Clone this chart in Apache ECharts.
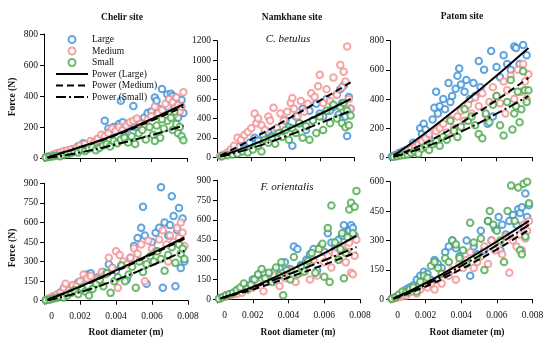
<!DOCTYPE html>
<html><head><meta charset="utf-8">
<script src="https://cdn.jsdelivr.net/npm/echarts@6/dist/echarts.min.js"></script>
<style>html,body{margin:0;padding:0;background:#fff}#c{width:550px;height:344px}</style>
</head><body><div id="c"></div>
<script>
// ---------- DATA ----------
const sizeNames = ['Large','Medium','Small'];
const fitNames = ['Power (Large)','Power (Medium)','Power (Small)'];
const siteTitles = ['Chelir site','Namkhane site','Patom site'];
const speciesLabels = ['C. betulus','F. orientalis'];
const xTickValues = [0, 0.002, 0.004, 0.006, 0.008];
const yMaxes = [800, 1200, 800, 900, 900, 600];
const yIntervals = [200, 200, 200, 150, 150, 150];

// Chelir (top)
const chelirTopLarge = [[0.0002,8],[0.0004,15],[0.0006,22],[0.0008,28],[0.0012,40],[0.0016,55],[0.0019,75],[0.0022,95],[0.0026,90],[0.003,120],[0.0032,95],[0.0034,240],[0.0036,190],[0.0037,170],[0.0039,200],[0.0041,180],[0.0042,220],[0.0043,370],[0.0044,230],[0.0045,140],[0.0047,190],[0.005,335],[0.0051,200],[0.0053,240],[0.0056,260],[0.0058,290],[0.006,300],[0.0062,390],[0.0063,370],[0.0064,320],[0.0066,445],[0.0067,300],[0.0069,410],[0.007,380],[0.0071,415],[0.0072,400],[0.0073,330],[0.0074,390],[0.0075,260],[0.0076,350],[0.0077,375],[0.0078,290]];
const chelirTopMedium = [[0.0001,5],[0.0003,12],[0.0005,20],[0.0007,30],[0.0009,35],[0.0011,45],[0.0013,50],[0.0015,55],[0.0018,65],[0.002,80],[0.0023,90],[0.0026,110],[0.0028,100],[0.003,125],[0.0032,150],[0.0034,140],[0.0036,160],[0.0038,190],[0.004,175],[0.0042,200],[0.0044,180],[0.0046,210],[0.0048,230],[0.005,240],[0.0052,255],[0.0054,220],[0.0056,200],[0.0058,250],[0.006,270],[0.0062,330],[0.0064,290],[0.0066,310],[0.0068,350],[0.007,380],[0.0071,300],[0.0072,360],[0.0073,280],[0.0074,390],[0.0075,340],[0.0076,300],[0.0077,330],[0.0078,425]];
const chelirTopSmall = [[0.0001,3],[0.0003,6],[0.0005,10],[0.0007,15],[0.0009,12],[0.0011,20],[0.0013,25],[0.0015,30],[0.0017,40],[0.0019,35],[0.0021,55],[0.0023,45],[0.0025,60],[0.0027,70],[0.0029,50],[0.0031,65],[0.0033,80],[0.0035,90],[0.0037,75],[0.0039,110],[0.0041,95],[0.0043,120],[0.0045,130],[0.0047,100],[0.0049,140],[0.0051,90],[0.0053,160],[0.0055,180],[0.0057,120],[0.0059,200],[0.0061,150],[0.0063,210],[0.0065,130],[0.0067,190],[0.0069,240],[0.0071,260],[0.0072,180],[0.0073,300],[0.0074,220],[0.0075,160],[0.0076,200],[0.0077,140],[0.0078,115],[0.0062,110],[0.0066,250]];
// Namkhane (top, C. betulus)
const namkTopLarge = [[0.0002,10],[0.0005,30],[0.0008,60],[0.001,80],[0.0013,110],[0.0016,90],[0.0019,150],[0.0022,200],[0.0024,170],[0.0027,230],[0.003,260],[0.0032,220],[0.0035,300],[0.0037,250],[0.004,380],[0.0042,310],[0.0044,120],[0.0046,420],[0.0048,350],[0.005,500],[0.0052,280],[0.0054,480],[0.0056,380],[0.0058,550],[0.006,450],[0.0062,420],[0.0064,600],[0.0066,480],[0.0068,520],[0.007,650],[0.0071,440],[0.0072,700],[0.0073,560],[0.0074,740],[0.0075,420],[0.0076,220],[0.0077,620],[0.0078,500]];
const namkTopMedium = [[0.0002,15],[0.0004,30],[0.0006,50],[0.0008,80],[0.001,120],[0.0012,200],[0.0014,180],[0.0016,230],[0.0018,260],[0.002,300],[0.0022,450],[0.0023,350],[0.0024,400],[0.0026,330],[0.0028,280],[0.003,420],[0.0031,380],[0.0033,510],[0.0035,300],[0.0037,450],[0.0039,380],[0.0041,470],[0.0043,560],[0.0044,610],[0.0045,500],[0.0047,420],[0.0049,580],[0.0051,470],[0.0053,550],[0.0055,660],[0.0057,620],[0.0059,730],[0.006,850],[0.0062,560],[0.0064,700],[0.0066,580],[0.0068,820],[0.007,640],[0.0072,950],[0.0073,720],[0.0074,880],[0.0075,780],[0.0076,1140],[0.0077,600],[0.0078,500]];
const namkTopSmall = [[0.0003,10],[0.0006,20],[0.0009,30],[0.0012,40],[0.0015,60],[0.0018,50],[0.0021,80],[0.0024,120],[0.0026,60],[0.0028,180],[0.003,150],[0.0032,200],[0.0034,140],[0.0036,250],[0.0038,210],[0.004,280],[0.0042,180],[0.0044,300],[0.0046,250],[0.0048,350],[0.005,200],[0.0052,320],[0.0054,180],[0.0056,380],[0.0058,250],[0.006,420],[0.0062,280],[0.0064,480],[0.0066,350],[0.0068,540],[0.007,400],[0.0072,520],[0.0073,350],[0.0074,560],[0.0075,310],[0.0076,480],[0.0077,330],[0.0078,430]];
// Patom (top)
const patomTopLarge = [[0.0001,5],[0.0003,15],[0.0005,30],[0.0007,40],[0.0009,50],[0.0011,60],[0.0013,100],[0.0015,80],[0.0017,200],[0.0018,160],[0.0019,230],[0.002,190],[0.0022,140],[0.0024,260],[0.0025,340],[0.0026,450],[0.0027,300],[0.0028,350],[0.003,400],[0.0031,330],[0.0033,510],[0.0034,380],[0.0035,420],[0.0037,470],[0.0038,560],[0.0039,610],[0.004,500],[0.0042,450],[0.0043,530],[0.0045,400],[0.0047,510],[0.0048,420],[0.005,660],[0.0051,480],[0.0053,600],[0.0055,230],[0.0057,730],[0.0058,280],[0.006,620],[0.0062,550],[0.0064,700],[0.0066,640],[0.0068,600],[0.007,760],[0.0071,750],[0.0073,640],[0.0075,770],[0.0077,700]];
const patomTopMedium = [[0.0002,5],[0.0004,12],[0.0006,20],[0.0008,30],[0.001,45],[0.0012,60],[0.0014,70],[0.0016,90],[0.0018,110],[0.002,130],[0.0022,160],[0.0024,100],[0.0026,180],[0.0028,200],[0.003,230],[0.0032,170],[0.0034,260],[0.0036,200],[0.0038,280],[0.004,320],[0.0042,250],[0.0044,360],[0.0046,300],[0.0048,410],[0.005,350],[0.0052,440],[0.0054,290],[0.0056,380],[0.0058,480],[0.006,420],[0.0062,370],[0.0064,520],[0.0066,460],[0.0068,560],[0.007,400],[0.0072,600],[0.0074,450],[0.0075,640],[0.0076,520],[0.0077,400],[0.0078,570],[0.0065,300]];
const patomTopSmall = [[0.0002,3],[0.0004,8],[0.0006,12],[0.0008,15],[0.001,20],[0.0012,30],[0.0014,40],[0.0016,25],[0.0018,60],[0.002,70],[0.0022,50],[0.0024,90],[0.0026,110],[0.0028,80],[0.003,140],[0.0032,120],[0.0034,250],[0.0036,180],[0.0038,140],[0.004,210],[0.0042,330],[0.0044,250],[0.0046,280],[0.0048,220],[0.005,160],[0.0052,130],[0.0054,300],[0.0056,240],[0.0058,360],[0.006,420],[0.0062,220],[0.0064,150],[0.0066,380],[0.0068,530],[0.007,300],[0.0071,350],[0.0072,450],[0.0073,240],[0.0074,330],[0.0075,590],[0.0076,460],[0.0077,380],[0.0078,460],[0.0069,190]];
// Chelir (bottom)
const chelirBotLarge = [[0.0001,5],[0.0003,15],[0.0005,25],[0.0007,40],[0.0009,60],[0.0011,90],[0.0013,70],[0.0016,110],[0.0019,140],[0.0022,160],[0.0024,200],[0.0026,210],[0.003,180],[0.0033,220],[0.0036,280],[0.0038,250],[0.004,230],[0.0043,270],[0.0046,160],[0.0048,330],[0.005,420],[0.0052,480],[0.0054,560],[0.0055,720],[0.0056,500],[0.0057,130],[0.006,450],[0.0062,520],[0.0064,560],[0.0065,870],[0.0066,100],[0.0067,600],[0.0069,500],[0.007,580],[0.0071,800],[0.0072,650],[0.0073,110],[0.0074,540],[0.0075,710],[0.0076,250],[0.0077,630],[0.0078,300]];
const chelirBotMedium = [[0.0001,8],[0.0003,20],[0.0005,35],[0.0007,45],[0.0009,60],[0.0011,100],[0.0012,130],[0.0014,80],[0.0016,120],[0.0018,110],[0.002,150],[0.0022,200],[0.0024,170],[0.0026,190],[0.0028,140],[0.003,170],[0.0032,220],[0.0034,200],[0.0036,330],[0.0038,250],[0.004,380],[0.0041,100],[0.0042,350],[0.0044,300],[0.0046,280],[0.0048,330],[0.005,400],[0.0052,360],[0.0054,430],[0.0056,150],[0.0058,460],[0.006,400],[0.0062,380],[0.0064,470],[0.0066,540],[0.0068,430],[0.007,500],[0.0072,450],[0.0074,560],[0.0075,480],[0.0076,600],[0.0077,520],[0.0078,420],[0.0069,300]];
const chelirBotSmall = [[0.0001,3],[0.0003,8],[0.0005,15],[0.0007,20],[0.0009,30],[0.0011,25],[0.0013,40],[0.0015,60],[0.0017,80],[0.0019,50],[0.0021,100],[0.0023,70],[0.0025,40],[0.0027,90],[0.0029,130],[0.0031,160],[0.0033,110],[0.0035,210],[0.0037,60],[0.0039,150],[0.0041,180],[0.0043,270],[0.0045,150],[0.0047,200],[0.0049,260],[0.0051,100],[0.0053,300],[0.0055,220],[0.0057,280],[0.0059,340],[0.0061,300],[0.0063,380],[0.0065,320],[0.0067,230],[0.0069,350],[0.0071,410],[0.0073,290],[0.0075,430],[0.0076,360],[0.0077,400],[0.0078,320]];
// Namkhane (bottom, F. orientalis)
const namkBotLarge = [[0.0002,10],[0.0005,25],[0.0008,40],[0.0011,60],[0.0014,80],[0.0017,100],[0.002,150],[0.0023,180],[0.0026,200],[0.0029,170],[0.0032,210],[0.0035,240],[0.0038,280],[0.0041,230],[0.0043,400],[0.0045,380],[0.0047,260],[0.005,300],[0.0052,340],[0.0054,380],[0.0056,220],[0.0058,400],[0.006,360],[0.0062,500],[0.0064,430],[0.0066,380],[0.0068,450],[0.007,480],[0.0071,560],[0.0072,500],[0.0074,520],[0.0075,560],[0.0076,540],[0.0077,480]];
const namkBotMedium = [[0.0002,8],[0.0005,20],[0.0008,30],[0.0011,40],[0.0014,50],[0.0017,70],[0.002,90],[0.0023,120],[0.0026,60],[0.0029,140],[0.0032,180],[0.0035,100],[0.0038,160],[0.0041,220],[0.0044,130],[0.0047,200],[0.005,260],[0.0052,150],[0.0054,300],[0.0056,180],[0.0058,390],[0.006,280],[0.0062,330],[0.0064,240],[0.0066,350],[0.0068,300],[0.007,400],[0.0072,280],[0.0074,430],[0.0075,200],[0.0076,190],[0.0077,330],[0.0078,450],[0.0073,360]];
const namkBotSmall = [[0.0001,5],[0.0003,15],[0.0005,30],[0.0007,40],[0.0009,50],[0.0011,70],[0.0013,90],[0.0015,120],[0.0017,80],[0.0019,110],[0.0021,150],[0.0023,190],[0.0025,230],[0.0027,160],[0.0029,200],[0.0031,130],[0.0033,240],[0.0035,180],[0.0036,280],[0.0037,30],[0.0039,220],[0.0041,150],[0.0043,320],[0.0045,190],[0.0047,250],[0.0049,210],[0.0051,290],[0.0053,350],[0.0055,200],[0.0057,380],[0.0059,420],[0.006,170],[0.0062,540],[0.0063,130],[0.0064,710],[0.0066,430],[0.0068,300],[0.007,500],[0.0071,160],[0.0072,350],[0.0073,470],[0.0074,680],[0.0075,730],[0.0076,500],[0.0077,700],[0.0078,820],[0.0069,380]];
// Patom (bottom)
const patomBotLarge = [[0.0001,3],[0.0003,10],[0.0005,20],[0.0007,30],[0.0009,50],[0.0011,60],[0.0013,70],[0.0015,100],[0.0017,120],[0.0019,140],[0.0021,130],[0.0023,100],[0.0025,200],[0.0027,180],[0.0029,160],[0.0031,240],[0.0033,270],[0.0035,300],[0.0037,260],[0.0039,220],[0.0041,180],[0.0043,300],[0.0045,120],[0.0047,270],[0.0049,230],[0.0051,350],[0.0053,250],[0.0055,400],[0.0057,300],[0.0059,360],[0.0061,420],[0.0063,380],[0.0065,330],[0.0067,400],[0.0069,430],[0.0071,380],[0.0072,460],[0.0073,440],[0.0074,470],[0.0075,350],[0.0076,540],[0.0077,420],[0.0078,480],[0.0062,250]];
const patomBotMedium = [[0.0001,2],[0.0003,6],[0.0005,10],[0.0007,15],[0.0009,20],[0.0011,35],[0.0013,40],[0.0015,30],[0.0017,50],[0.0019,70],[0.0021,60],[0.0023,80],[0.0025,50],[0.0027,100],[0.0029,80],[0.0031,130],[0.0033,120],[0.0035,150],[0.0037,100],[0.0039,180],[0.0041,160],[0.0043,200],[0.0045,240],[0.0047,160],[0.0049,190],[0.0051,220],[0.0053,270],[0.0055,180],[0.0057,300],[0.0059,250],[0.0061,280],[0.0063,230],[0.0065,320],[0.0067,135],[0.0069,300],[0.0071,270],[0.0073,330],[0.0074,250],[0.0075,380],[0.0076,310],[0.0077,350],[0.0078,400]];
const patomBotSmall = [[0.0001,3],[0.0003,10],[0.0005,25],[0.0007,40],[0.0009,35],[0.0011,50],[0.0013,60],[0.0015,40],[0.0017,90],[0.0019,120],[0.0021,110],[0.0023,170],[0.0025,190],[0.0027,160],[0.0029,130],[0.0031,210],[0.0033,190],[0.0035,300],[0.0037,280],[0.0039,210],[0.0041,250],[0.0043,180],[0.0045,390],[0.0047,290],[0.0049,220],[0.0051,310],[0.0053,150],[0.0055,400],[0.0056,450],[0.0058,380],[0.006,350],[0.0062,300],[0.0064,190],[0.0066,450],[0.0068,580],[0.007,400],[0.0072,570],[0.0073,250],[0.0074,230],[0.0075,590],[0.0076,320],[0.0077,600],[0.0078,490]];

// Power-fit curves read at these diameters
const fitX = [0.0002, 0.002, 0.004, 0.006, 0.0078];
const fitChelirTop = [[4,70,150,250,345],[3,68,146,240,330],[1,35,87,147,208]];
const fitNamkTop   = [[10,125,277,443,600],[16,184,380,583,770],[7,94,215,350,480]];
const fitPatomTop  = [[12,167,359,560,750],[5,99,236,392,545],[3,72,176,299,420]];
const fitChelirBot = [[7,108,232,363,485],[7,106,227,355,475],[3,65,160,271,383]];
const fitNamkBot   = [[6,93,215,349,480],[7,74,165,262,355],[8,88,189,295,395]];
const fitPatomBot  = [[6,83,185,295,400],[3,65,154,255,355],[4,74,170,276,380]];

const panelData = [
  [chelirTopLarge, chelirTopMedium, chelirTopSmall],
  [namkTopLarge, namkTopMedium, namkTopSmall],
  [patomTopLarge, patomTopMedium, patomTopSmall],
  [chelirBotLarge, chelirBotMedium, chelirBotSmall],
  [namkBotLarge, namkBotMedium, namkBotSmall],
  [patomBotLarge, patomBotMedium, patomBotSmall]
];
const panelFits = [fitChelirTop, fitNamkTop, fitPatomTop, fitChelirBot, fitNamkBot, fitPatomBot];

// ---------- LAYOUT / STYLE ----------
const grids = [
  {left:44, top:34, width:143, height:124},
  {left:217, top:40.7, width:137, height:116.6},
  {left:390, top:40.7, width:142, height:116.6},
  {left:44, top:183.3, width:144, height:117.4},
  {left:217, top:180.3, width:143, height:119},
  {left:390, top:181.7, width:142.5, height:117.6}
];
const SERIF = '"Liberation Serif","Times New Roman",serif';
const colors = ['#3a8fd6', '#f28e8e', '#4aa84a'];
const lineTypes = ['solid', [7,4], [10,3,2,3]];

const xAxes = [], yAxes = [], series = [];
grids.forEach((g, i) => {
  const bottom = i >= 3;
  xAxes.push({
    gridIndex: i, type: 'value', min: 0, max: 0.008, interval: 0.002,
    axisLine: {show: true, onZero: false, lineStyle: {color: '#000', width: 1}},
    axisTick: {show: true, length: 4, lineStyle: {color: '#000'}},
    splitLine: {show: false},
    axisLabel: {
      show: bottom, margin: 11, fontSize: 9.5, fontFamily: SERIF, color: '#111',
      formatter: v => v === 0 ? '{z|0}' : v.toFixed(3),
      rich: {z: {padding: [0,0,0,15], fontSize: 9.5, fontFamily: SERIF, color: '#111'}}
    }
  });
  yAxes.push({
    gridIndex: i, type: 'value', min: 0, max: yMaxes[i], interval: yIntervals[i],
    axisLine: {show: true, lineStyle: {color: '#000', width: 1}},
    axisTick: {show: true, length: 4, lineStyle: {color: '#000'}},
    splitLine: {show: false},
    axisLabel: {margin: 6, fontSize: 9.5, fontFamily: SERIF, color: '#111', formatter: v => String(v)}
  });
  panelData[i].forEach((d, k) => {
    series.push({
      name: sizeNames[k], type: 'scatter', xAxisIndex: i, yAxisIndex: i,
      symbol: 'emptyCircle', symbolSize: 6.5,
      itemStyle: {color: colors[k], borderColor: colors[k], borderWidth: 0.9},
      data: d, z: 2 + k
    });
  });
  panelFits[i].forEach((vals, k) => {
    series.push({
      name: fitNames[k], type: 'line', xAxisIndex: i, yAxisIndex: i,
      smooth: true, symbol: 'none', showSymbol: false, silent: true,
      lineStyle: {color: '#000', width: 2, type: lineTypes[k]},
      itemStyle: {color: '#000'},
      data: fitX.map((x, j) => [x, vals[j]]), z: 10
    });
  });
});

const txt = (text, x, y, font, rot) => ({
  type: 'text', x, y, rotation: rot || 0, silent: true,
  style: {text, font, fill: '#111', textAlign: 'center', textVerticalAlign: 'middle'}
});
const boldF = 'bold 9.5px ' + SERIF;
const graphic = [
  txt(siteTitles[0], 122, 17.5, boldF),
  txt(siteTitles[1], 292, 17.5, boldF),
  txt(siteTitles[2], 462, 16.5, boldF),
  txt(speciesLabels[0], 288, 39.5, 'italic 11px ' + SERIF),
  txt(speciesLabels[1], 287, 187, 'italic 11px ' + SERIF),
  txt('Force (N)', 13, 97, boldF, Math.PI/2),
  txt('Force (N)', 13, 248, boldF, Math.PI/2),
  txt('Root diameter (m)', 126, 333, boldF),
  txt('Root diameter (m)', 298, 333, boldF),
  txt('Root diameter (m)', 467, 333, boldF)
];

const hiddenMark = {color: 'transparent', borderColor: 'transparent', borderWidth: 0, opacity: 0};
const chart = echarts.init(document.getElementById('c'), null, {renderer: 'canvas'});
chart.setOption({
  animation: false,
  backgroundColor: '#fff',
  grid: grids,
  xAxis: xAxes,
  yAxis: yAxes,
  series,
  legend: {
    left: 50, top: 29.5, orient: 'vertical',
    itemWidth: 32, itemHeight: 7, itemGap: 1.5,
    selectedMode: false,
    textStyle: {fontSize: 9.5, fontFamily: SERIF, color: '#111', lineHeight: 8, padding: [0,0,0,-1]},
    data: sizeNames.map(n => ({name: n})).concat(
      fitNames.map((n, k) => ({name: n, itemStyle: hiddenMark,
        lineStyle: {color: '#000', width: 2, type: lineTypes[k], opacity: 1}})))
  },
  graphic
});
</script></body></html>
